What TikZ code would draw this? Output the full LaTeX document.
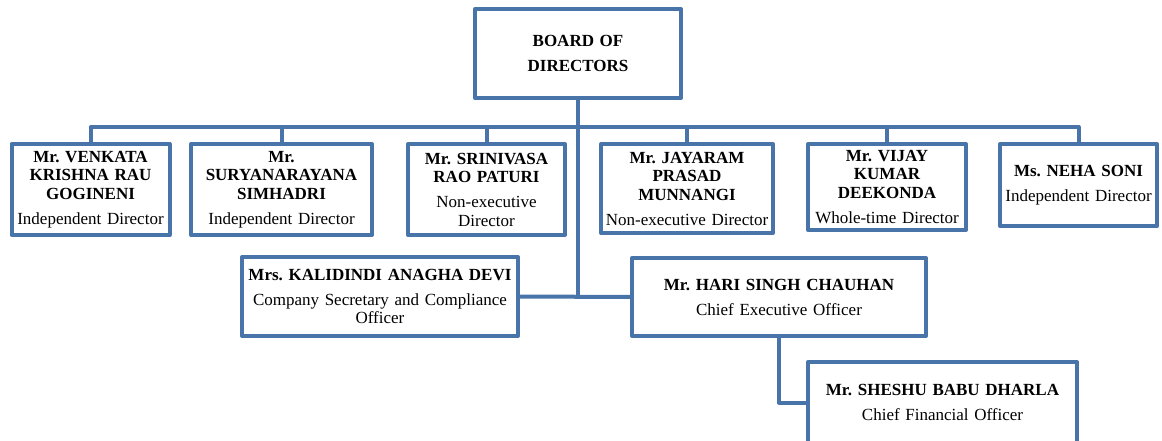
\documentclass[tikz,border=0pt]{standalone}
\usepackage{fontspec}
\setmainfont{Liberation Serif}
\definecolor{orgblue}{RGB}{73,116,170}
\frenchspacing

\begin{document}
\begin{tikzpicture}[x=1pt,y=-1pt,
	box/.style={draw=orgblue,line width=4pt,line join=round,fill=white,inner sep=0pt,align=center,
		font=\fontsize{17}{18.5}\selectfont\bfseries},
	link/.style={draw=orgblue,line width=4pt,line join=round}]
			\useasboundingbox (0,0) rectangle (1162,441);
			\node[box,minimum width=206,minimum height=89,text width=200,font=\fontsize{17}{25}\selectfont\bfseries] (board) at (578,53.5) {BOARD OF\\DIRECTORS};
			
			\node[box,minimum width=158,minimum height=91,text width=158] (b1) at (90.5,189.5)
				{Mr. VENKATA\\KRISHNA RAU\\GOGINENI\\[6.5pt]\mdseries Independent Director};
			\node[box,minimum width=181,minimum height=91,text width=181] (b2) at (281.5,189.5)
				{Mr.\\SURYANARAYANA\\SIMHADRI\\[6.5pt]\mdseries Independent Director};
			\node[box,minimum width=157,minimum height=91,text width=157] (b3) at (486.5,189.5)
				{Mr. SRINIVASA\\RAO PATURI\\[6.5pt]\mdseries Non-executive\\Director};
			\node[box,minimum width=172,minimum height=89,text width=172] (b4) at (687,188.5)
				{Mr. JAYARAM\\PRASAD\\MUNNANGI\\[6.5pt]\mdseries Non-executive Director};
			\node[box,minimum width=158,minimum height=86,text width=158] (b5) at (887,187)
				{Mr. VIJAY\\KUMAR\\DEEKONDA\\[6.5pt]\mdseries Whole-time Director};
			\node[box,minimum width=157,minimum height=82,text width=157] (b6) at (1078.5,185)
				{Ms. NEHA SONI\\[6.5pt]\mdseries Independent Director};
			
			\node[box,minimum width=276,minimum height=79,text width=276] (kal) at (380,296.5)
				{Mrs. KALIDINDI ANAGHA DEVI\\[6.5pt]\mdseries Company Secretary and Compliance\\Officer};
			\node[box,minimum width=294,minimum height=78,text width=294] (ceo) at (779,297)
				{Mr. HARI SINGH CHAUHAN\\[6.5pt]\mdseries Chief Executive Officer};
			\node[box,minimum width=269,minimum height=81,text width=269] (cfo) at (942.5,402.5)
				{Mr. SHESHU BABU DHARLA\\[6.5pt]\mdseries Chief Financial Officer};
			
			\coordinate (bus) at (578,127);
			\draw[link] (b1.north) |- (bus) -| (b6.north);
			\foreach \n in {b2,b3,b4,b5}
			\draw[link] (\n.north) -- (\n.north |- bus);
			\draw[link] (board.south) -- (board.south |- kal.east);
			\draw[link] (kal.east) -- (ceo.west);
			\draw[link] (ceo.south) |- (cfo.west);
\end{tikzpicture}
\end{document}
